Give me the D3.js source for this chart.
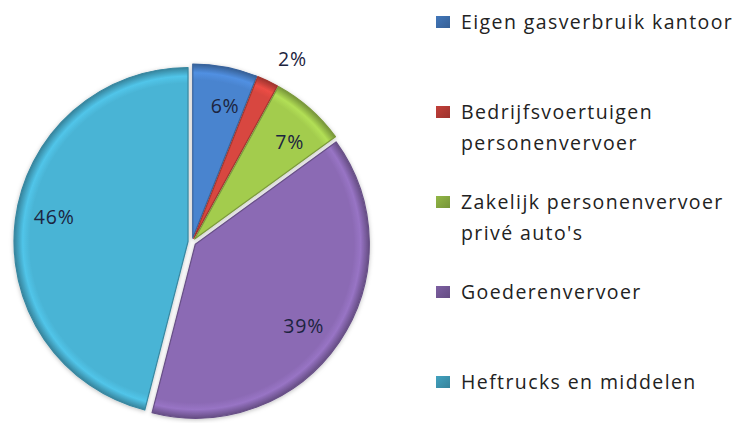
<!DOCTYPE html>
<html>
<head>
<meta charset="utf-8">
<script src="https://cdn.jsdelivr.net/npm/d3@7"></script>
<style>
  body { margin: 0; background: #fff; }
  svg { display: block; }
  .pct { font-family: "Open Sans", sans-serif; font-size: 19.5px; letter-spacing: 0.8px; fill: #1c2440; }
  .legend text { font-family: "Open Sans", sans-serif; font-size: 19.5px; letter-spacing: 1.4px; fill: #222; }
</style>
</head>
<body>
<svg id="chart"></svg>
<script>
"use strict";

var width = 738;
var height = 423;

// data
var categories = [
  "Eigen gasverbruik kantoor",
  "Bedrijfsvoertuigen personenvervoer",
  "Zakelijk personenvervoer privé auto's",
  "Goederenvervoer",
  "Heftrucks en middelen"
];
var legendLines = [
  ["Eigen gasverbruik kantoor"],
  ["Bedrijfsvoertuigen", "personenvervoer"],
  ["Zakelijk personenvervoer", "privé auto's"],
  ["Goederenvervoer"],
  ["Heftrucks en middelen"]
];
var values = [6, 2, 7, 39, 46];
var colors = ["#4a84cf", "#d8463f", "#a3cc4e", "#8b6ab4", "#4ab4d5"];

var cx = 192, cy = 242, radius = 174, explode = 4;

var svg = d3.select("#chart").attr("width", width).attr("height", height);

var defs = svg.append("defs");

defs.append("filter").attr("id", "shadow")
  .attr("x", "-10%").attr("y", "-10%").attr("width", "120%").attr("height", "120%")
  .append("feDropShadow")
  .attr("dx", 0).attr("dy", 1).attr("stdDeviation", 2)
  .attr("flood-color", "#000").attr("flood-opacity", 0.25);

colors.forEach(function (c, i) {
  var g = defs.append("radialGradient").attr("id", "grad" + i)
    .attr("gradientUnits", "userSpaceOnUse")
    .attr("cx", 0).attr("cy", 0).attr("r", radius);
  g.append("stop").attr("offset", "0%").attr("stop-color", c);
  g.append("stop").attr("offset", "91%").attr("stop-color", c);
  g.append("stop").attr("offset", "95%").attr("stop-color", d3.color(c).brighter(0.25));
  g.append("stop").attr("offset", "100%").attr("stop-color", d3.color(c).darker(0.9));

  var lg = defs.append("linearGradient").attr("id", "leg" + i)
    .attr("x1", 0).attr("y1", 0).attr("x2", 1).attr("y2", 1);
  lg.append("stop").attr("offset", "0%").attr("stop-color", d3.color(c).darker(0.3));
  lg.append("stop").attr("offset", "100%").attr("stop-color", d3.color(c).darker(0.9));
});

var pie = d3.pie().sort(null).value(function (d) { return d; });
var arcs = pie(values);

var arc = d3.arc().innerRadius(0).outerRadius(radius);

var pieG = svg.append("g")
  .attr("transform", "translate(" + cx + "," + cy + ")")
  .attr("filter", "url(#shadow)");

function offset(d) {
  var a = (d.startAngle + d.endAngle) / 2;
  return [Math.sin(a) * explode, -Math.cos(a) * explode];
}

pieG.selectAll("path").data(arcs).enter().append("path")
  .attr("d", arc)
  .attr("transform", function (d) {
    var o = offset(d);
    return "translate(" + o[0] + "," + o[1] + ")";
  })
  .attr("fill", function (d, i) { return "url(#grad" + i + ")"; })
  .attr("stroke", function (d, i) { return d3.color(colors[i]).darker(0.8); })
  .attr("stroke-width", 1.2)
  .attr("stroke-linejoin", "round");

// labels sit a little clockwise of the slice middle, small slice goes outside
function labelPos(d) {
  var outside = d.data < 4;
  var a = (d.startAngle + d.endAngle) / 2 + (outside ? 0.02 : 0.05);
  var r = outside ? 204 : 140;
  return [Math.sin(a) * r + (outside ? 10 : 0), -Math.cos(a) * r];
}

var labelG = svg.append("g").attr("transform", "translate(" + cx + "," + cy + ")");

labelG.selectAll("text").data(arcs).enter().append("text")
  .attr("class", "pct")
  .attr("transform", function (d) {
    var p = labelPos(d);
    return "translate(" + p[0] + "," + p[1] + ")";
  })
  .attr("text-anchor", "middle")
  .attr("dy", "0.35em")
  .text(function (d) { return d.data + "%"; });

// legend
var ly = d3.scalePoint().domain(categories).range([22, 382]);

var legend = svg.append("g").attr("class", "legend");
var item = legend.selectAll("g").data(categories).enter().append("g")
  .attr("transform", function (d) { return "translate(436," + ly(d) + ")"; });

item.append("rect")
  .attr("x", 0).attr("y", -6).attr("width", 14).attr("height", 12)
  .attr("fill", function (d, i) { return "url(#leg" + i + ")"; });

item.append("text")
  .attr("x", 25)
  .attr("y", 7)
  .selectAll("tspan")
  .data(function (d, i) { return legendLines[i]; })
  .enter().append("tspan")
  .attr("x", 25)
  .attr("dy", function (d, j) { return j === 0 ? 0 : 31; })
  .text(function (d) { return d; });
</script>
</body>
</html>
